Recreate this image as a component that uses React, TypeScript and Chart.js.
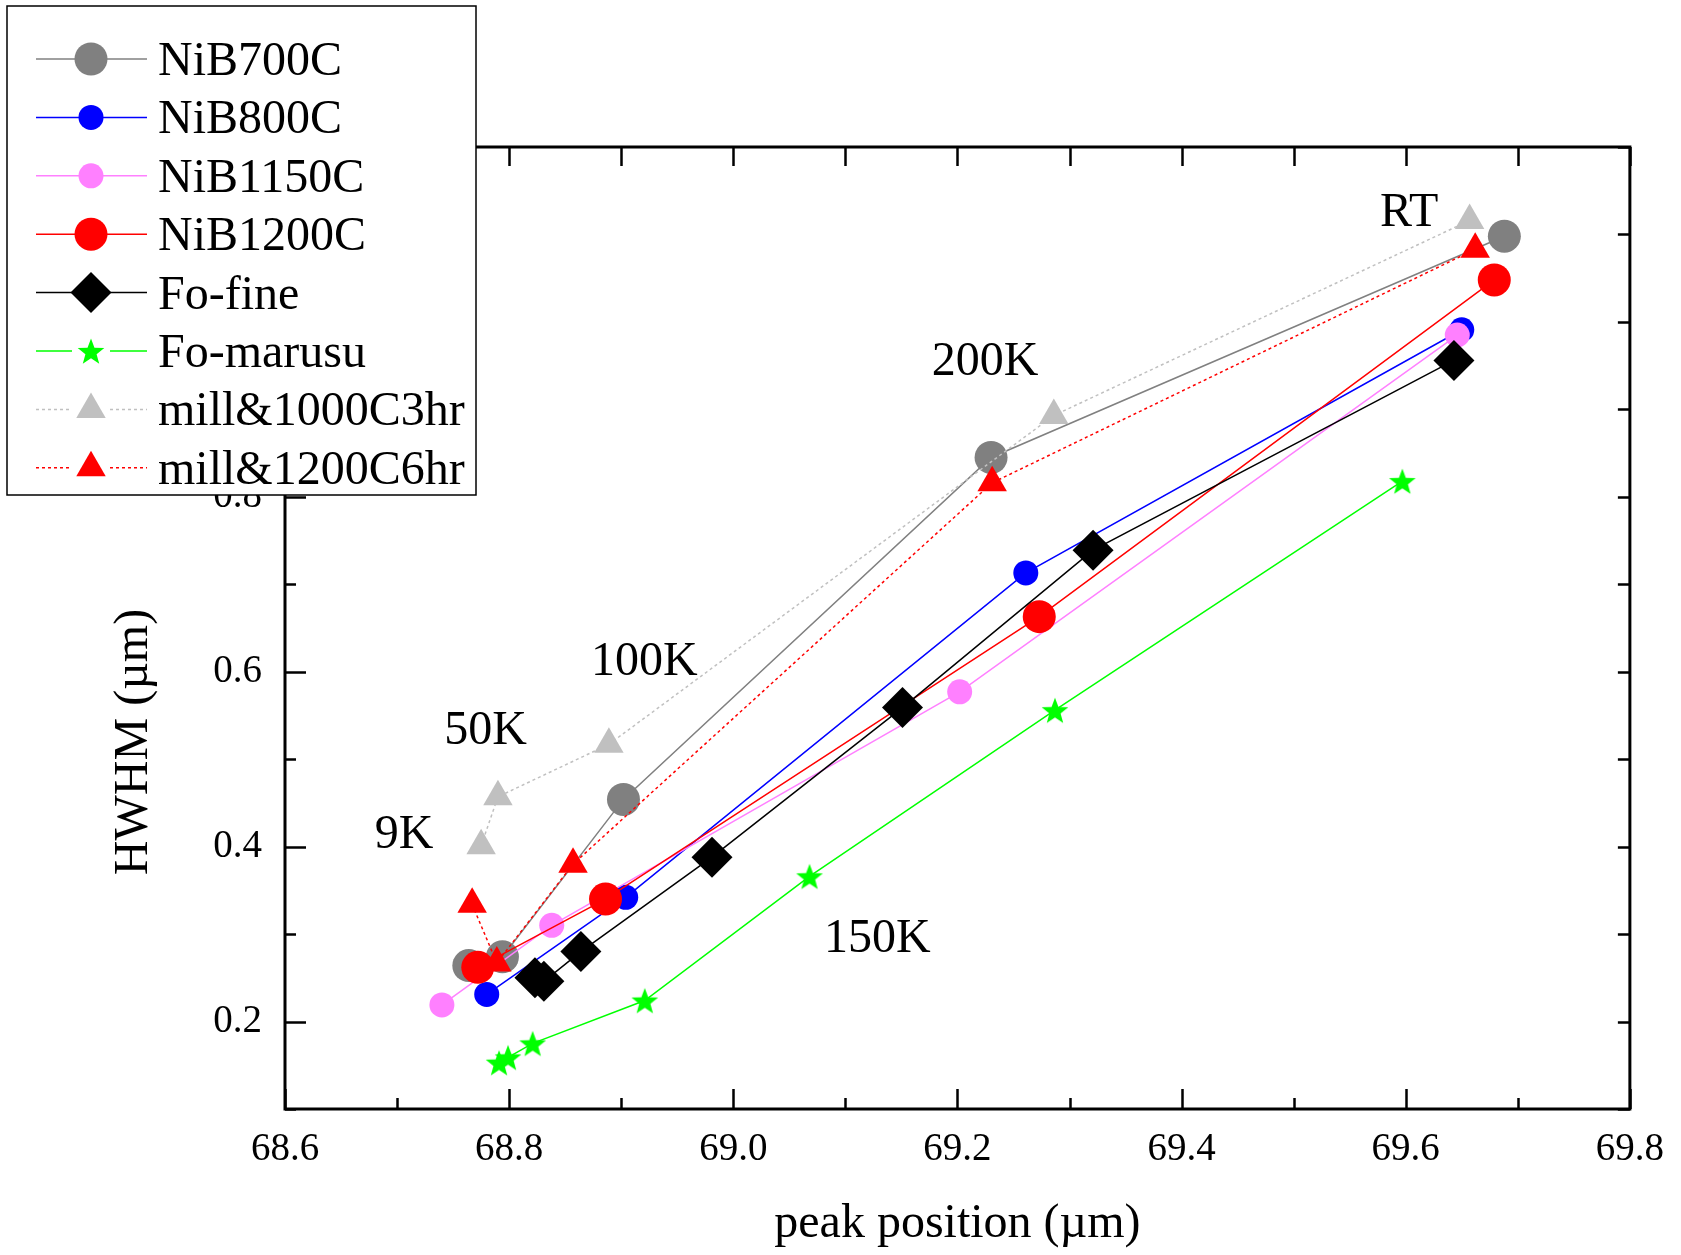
import React, { useEffect, useRef } from 'react';
import { Chart, registerables } from 'chart.js';

Chart.register(...registerables);

const FONT = '"Liberation Serif", "Times New Roman", Times, serif';

// ---- axis ticks / labels ----
const xTickValues = [68.6, 68.8, 69.0, 69.2, 69.4, 69.6, 69.8];
const yTickValues = [0.2, 0.4, 0.6, 0.8, 1.0, 1.2];
const xTitle = 'peak position (\u00b5m)';
const yTitle = 'HWHM (\u00b5m)';

// ---- series ----
const seriesNames = ['NiB700C', 'NiB800C', 'NiB1150C', 'NiB1200C', 'Fo-fine', 'Fo-marusu', 'mill&1000C3hr', 'mill&1200C6hr'];
const seriesColors = ['#808080', '#0000FF', '#FF80FF', '#FF0000', '#000000', '#00FF00', '#C0C0C0', '#FF0000'];
const seriesMarkers = ['circle', 'circle', 'circle', 'circle', 'rectRot', 'star', 'triangle', 'triangle'];
const seriesDotted = [false, false, false, false, false, false, true, true];

const nib700X = [68.764, 68.794, 68.902, 69.230, 69.688];
const nib700Y = [0.264, 0.274, 0.454, 0.845, 1.098];

const nib800X = [68.780, 68.904, 69.261, 69.650];
const nib800Y = [0.231, 0.342, 0.713, 0.991];

const nib1150X = [68.740, 68.838, 69.202, 69.646];
const nib1150Y = [0.219, 0.310, 0.577, 0.985];

const nib1200X = [68.772, 68.886, 69.273, 69.679];
const nib1200Y = [0.262, 0.340, 0.663, 1.048];

const foFineX = [68.823, 68.831, 68.864, 68.981, 69.151, 69.321, 69.643];
const foFineY = [0.250, 0.246, 0.280, 0.388, 0.559, 0.739, 0.956];

const foMarusuX = [68.791, 68.799, 68.821, 68.921, 69.068, 69.287, 69.597];
const foMarusuY = [0.153, 0.159, 0.175, 0.224, 0.366, 0.556, 0.818];

const mill1000X = [68.775, 68.790, 68.889, 69.286, 69.657];
const mill1000Y = [0.401, 0.457, 0.517, 0.893, 1.116];

const mill1200X = [68.767, 68.789, 68.857, 69.231, 69.662];
const mill1200Y = [0.334, 0.267, 0.380, 0.816, 1.083];

const seriesX = [nib700X, nib800X, nib1150X, nib1200X, foFineX, foMarusuX, mill1000X, mill1200X];
const seriesY = [nib700Y, nib800Y, nib1150Y, nib1200Y, foFineY, foMarusuY, mill1000Y, mill1200Y];

// ---- temperature annotations (data coordinates of text start / baseline) ----
const noteTexts = ['9K', '50K', '100K', '150K', '200K', 'RT'];
const noteX = [68.680, 68.742, 68.873, 69.081, 69.177, 69.577];
const noteY = [0.399, 0.517, 0.596, 0.279, 0.939, 1.110];

// marker sizes (px)
const markerSize: Record<string, number> = { circleBig: 16.5, circleSmall: 12.5, rectRot: 20.5, star: 14, triangle: 17 };

function radiusFor(i: number): number {
  const m = seriesMarkers[i];
  if (m === 'circle') return i === 1 || i === 2 ? markerSize.circleSmall : markerSize.circleBig;
  return markerSize[m];
}

function starPath(ctx: CanvasRenderingContext2D, cx: number, cy: number, r: number) {
  const inner = r * 0.42;
  ctx.beginPath();
  for (let k = 0; k < 10; k++) {
    const rr = k % 2 === 0 ? r : inner;
    const a = -Math.PI / 2 + (k * Math.PI) / 5;
    const px = cx + rr * Math.cos(a);
    const py = cy + rr * Math.sin(a);
    if (k === 0) ctx.moveTo(px, py);
    else ctx.lineTo(px, py);
  }
  ctx.closePath();
}

function makeStar(color: string, r: number): HTMLCanvasElement {
  const c = document.createElement('canvas');
  const s = Math.ceil(r * 2 + 2);
  c.width = s;
  c.height = s;
  const g = c.getContext('2d')!;
  g.fillStyle = color;
  starPath(g, s / 2, s / 2 + r * 0.1, r);
  g.fill();
  return c;
}

function drawMarker(ctx: CanvasRenderingContext2D, style: string, x: number, y: number, r: number, color: string) {
  ctx.fillStyle = color;
  ctx.beginPath();
  if (style === 'circle') {
    ctx.arc(x, y, r, 0, Math.PI * 2);
  } else if (style === 'rectRot') {
    ctx.moveTo(x - r, y);
    ctx.lineTo(x, y - r);
    ctx.lineTo(x + r, y);
    ctx.lineTo(x, y + r);
    ctx.closePath();
  } else if (style === 'triangle') {
    for (let k = 0; k < 3; k++) {
      const a = (k * 2 * Math.PI) / 3;
      const px = x + Math.sin(a) * r;
      const py = y - Math.cos(a) * r;
      if (k === 0) ctx.moveTo(px, py);
      else ctx.lineTo(px, py);
    }
    ctx.closePath();
  } else if (style === 'star') {
    starPath(ctx, x, y + r * 0.1, r);
  }
  ctx.fill();
}

const decorPlugin = {
  id: 'decor',
  afterDraw(chart: any) {
    const { ctx, chartArea: a } = chart;
    const xs = chart.scales.x;
    const ys = chart.scales.y;
    ctx.save();

    // inward tick marks on all four sides
    ctx.strokeStyle = '#000';
    ctx.lineWidth = 2.5;
    ctx.beginPath();
    const xMin = xTickValues[0];
    const xMax = xTickValues[xTickValues.length - 1];
    const nX = Math.round((xMax - xMin) / 0.1);
    for (let i = 0; i <= nX; i++) {
      const v = xMin + i * 0.1;
      const px = Math.round(xs.getPixelForValue(v)) + 0.5;
      const len = i % 2 === 0 ? 20 : 11;
      ctx.moveTo(px, a.bottom);
      ctx.lineTo(px, a.bottom - len);
      ctx.moveTo(px, a.top);
      ctx.lineTo(px, a.top + 19);
    }
    for (let i = 0; i <= 11; i++) {
      const v = 0.1 + i * 0.1;
      const py = Math.round(ys.getPixelForValue(v)) + 0.5;
      const len = i % 2 === 1 ? 21 : 11;
      ctx.moveTo(a.left, py);
      ctx.lineTo(a.left + len, py);
      ctx.moveTo(a.right, py);
      ctx.lineTo(a.right - 12, py);
    }
    ctx.stroke();

    // frame
    ctx.lineWidth = 3;
    ctx.strokeRect(a.left, a.top, a.right - a.left, a.bottom - a.top);

    // temperature annotations
    ctx.fillStyle = '#000';
    ctx.font = `48px ${FONT}`;
    ctx.textAlign = 'left';
    ctx.textBaseline = 'alphabetic';
    noteTexts.forEach((t, i) => {
      ctx.fillText(t, xs.getPixelForValue(noteX[i]), ys.getPixelForValue(noteY[i]));
    });

    // axis titles
    ctx.font = `48px ${FONT}`;
    ctx.textAlign = 'center';
    ctx.fillText(xTitle, (a.left + a.right) / 2, 1237);
    ctx.save();
    ctx.translate(147, 742);
    ctx.rotate(-Math.PI / 2);
    ctx.fillText(yTitle, 0, 0);
    ctx.restore();

    // legend box
    const lx = 7, ly = 6, lw = 469, lh = 489;
    ctx.fillStyle = '#fff';
    ctx.fillRect(lx, ly, lw, lh);
    ctx.strokeStyle = '#000';
    ctx.lineWidth = 1.5;
    ctx.strokeRect(lx, ly, lw, lh);
    ctx.font = `48px ${FONT}`;
    ctx.textAlign = 'left';
    seriesNames.forEach((name, i) => {
      const cy = 59 + i * 58.4;
      const col = seriesColors[i];
      const mk = seriesMarkers[i];
      ctx.strokeStyle = col;
      ctx.lineWidth = 1.5;
      ctx.setLineDash(seriesDotted[i] ? [3, 3] : []);
      ctx.beginPath();
      if (mk === 'star' || mk === 'triangle') {
        ctx.moveTo(36, cy); ctx.lineTo(72, cy);
        ctx.moveTo(110, cy); ctx.lineTo(147, cy);
      } else {
        ctx.moveTo(36, cy); ctx.lineTo(147, cy);
      }
      ctx.stroke();
      ctx.setLineDash([]);
      drawMarker(ctx, mk, 91, cy, radiusFor(i), col);
      ctx.fillStyle = '#000';
      ctx.fillText(name, 158, cy + 16);
    });

    ctx.restore();
  },
};

export default function App() {
  const canvasRef = useRef<HTMLCanvasElement | null>(null);

  useEffect(() => {
    const canvas = canvasRef.current;
    if (!canvas) return;
    const datasets = seriesNames.map((name, i) => {
      const col = seriesColors[i];
      const mk = seriesMarkers[i];
      const r = radiusFor(i);
      return {
        label: name,
        data: seriesX[i].map((x, k) => ({ x, y: seriesY[i][k] })),
        showLine: true,
        tension: 0,
        borderColor: col,
        borderWidth: 1.5,
        borderDash: seriesDotted[i] ? [3, 3] : [],
        backgroundColor: col,
        pointStyle: mk === 'star' ? makeStar(col, r) : mk,
        pointRadius: r,
        pointHoverRadius: r,
        pointBackgroundColor: col,
        pointBorderColor: col,
        pointBorderWidth: 0,
        order: seriesNames.length - i,
      };
    });

    const chart = new Chart(canvas, {
      type: 'scatter',
      data: { datasets } as any,
      options: {
        animation: false,
        responsive: false,
        devicePixelRatio: 1,
        events: [],
        layout: { padding: { top: 147, right: 48, left: 0, bottom: 0 } },
        plugins: { legend: { display: false }, tooltip: { enabled: false }, title: { display: false } },
        scales: {
          x: {
            type: 'linear',
            min: xTickValues[0],
            max: xTickValues[xTickValues.length - 1],
            afterBuildTicks: (s: any) => { s.ticks = xTickValues.map((v) => ({ value: v })); },
            afterFit: (s: any) => { s.height = 146; },
            grid: { display: false, drawTicks: false },
            border: { display: false },
            ticks: {
              autoSkip: false,
              maxRotation: 0,
              padding: 17,
              color: '#000',
              font: { family: FONT, size: 39 },
              callback: (v: any) => Number(v).toFixed(1),
            },
          },
          y: {
            type: 'linear',
            min: 0.1,
            max: 1.2,
            afterBuildTicks: (s: any) => { s.ticks = yTickValues.map((v) => ({ value: v })); },
            afterFit: (s: any) => { s.width = 285; },
            grid: { display: false, drawTicks: false },
            border: { display: false },
            ticks: {
              autoSkip: false,
              padding: 23,
              color: '#000',
              font: { family: FONT, size: 39 },
              callback: (v: any) => Number(v).toFixed(1),
            },
          },
        },
      } as any,
      plugins: [decorPlugin],
    });
    return () => chart.destroy();
  }, []);

  return (
    <div style={{ position: 'absolute', left: 0, top: 0, width: 1681, height: 1255, background: '#fff' }}>
      <canvas ref={canvasRef} width={1681} height={1255} style={{ display: 'block' }} />
    </div>
  );
}
